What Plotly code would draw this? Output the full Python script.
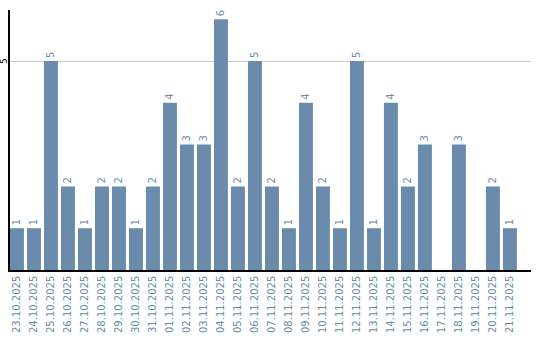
import plotly.graph_objects as go

dates = ["23.10.2025","24.10.2025","25.10.2025","26.10.2025","27.10.2025","28.10.2025",
         "29.10.2025","30.10.2025","31.10.2025","01.11.2025","02.11.2025","03.11.2025",
         "04.11.2025","05.11.2025","06.11.2025","07.11.2025","08.11.2025","09.11.2025",
         "10.11.2025","11.11.2025","12.11.2025","13.11.2025","14.11.2025","15.11.2025",
         "16.11.2025","17.11.2025","18.11.2025","19.11.2025","20.11.2025","21.11.2025"]
values = [1,1,5,2,1,2,2,1,2,4,3,3,6,2,5,2,1,4,2,1,5,1,4,2,3,0,3,0,2,1]
labels = [str(v) if v > 0 else "" for v in values]
ytick_vals = [5]

bar_color = "#6a8bab"

fig = go.Figure(go.Bar(
    x=list(range(len(dates))), y=values, text=labels,
    textposition="outside", textangle=-90, cliponaxis=False,
    textfont=dict(color=bar_color, size=10, family="DejaVu Sans"),
    marker=dict(color=bar_color, line=dict(width=0)),
))
fig.update_layout(
    width=540, height=340, margin=dict(l=10, r=9, t=10, b=70, autoexpand=False),
    paper_bgcolor="white", plot_bgcolor="white", bargap=0.18,
    showlegend=False, uniformtext=dict(mode=False),
)
for v in ytick_vals:
    fig.add_annotation(
        x=0, xref="paper", y=v, yref="y", text=str(v), showarrow=False,
        textangle=-90, xanchor="center", yanchor="middle", xshift=-6,
        font=dict(color="black", size=9, family="DejaVu Sans"),
    )
fig.update_xaxes(
    tickmode="array", tickvals=list(range(len(dates))), ticktext=dates,
    tickangle=-90, tickfont=dict(color=bar_color, size=10, family="DejaVu Sans"),
    range=[-0.41, 30.24], showline=True, linecolor="black", linewidth=1.5,
    showgrid=False, ticks="", zeroline=False, automargin=False,
)
fig.update_yaxes(
    range=[0, 6.22], tickvals=ytick_vals, showticklabels=False,
    showline=True, linecolor="black", linewidth=1.5,
    showgrid=True, gridcolor="#c8c8c8", gridwidth=1, zeroline=False, ticks="",
    automargin=False,
)
fig.write_html("out.html")
